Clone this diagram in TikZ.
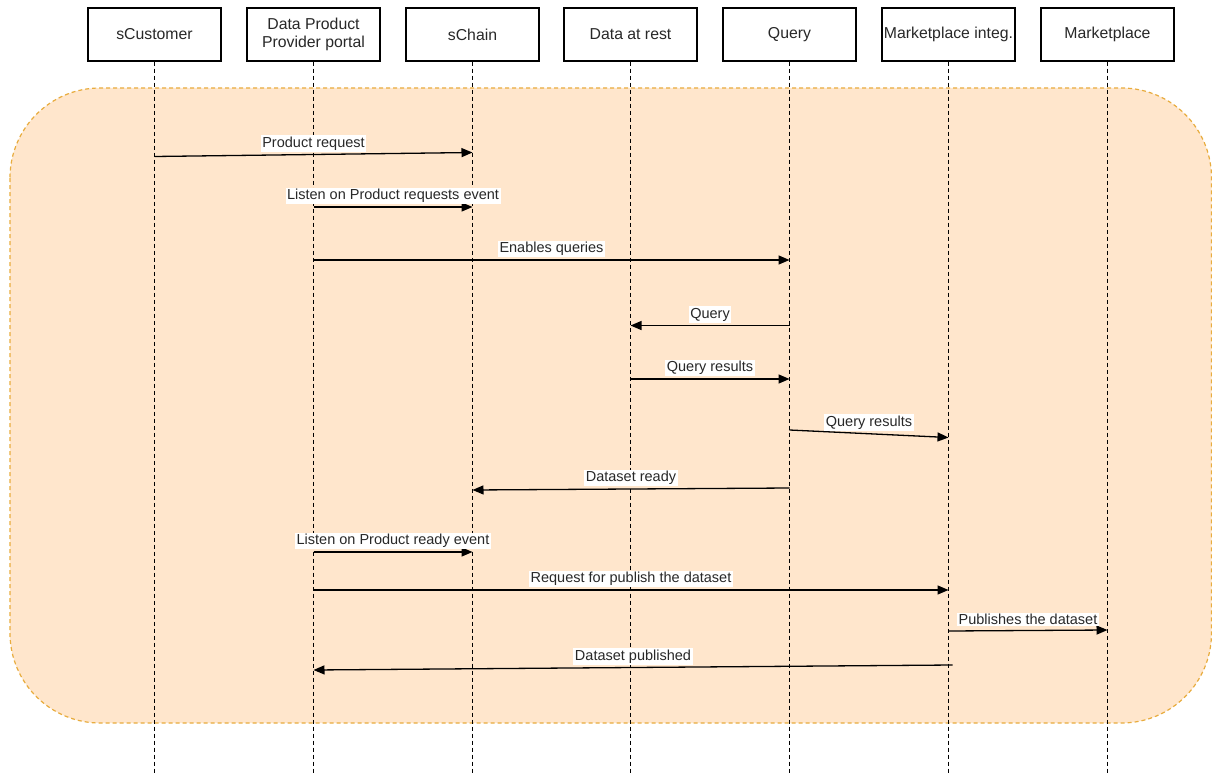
\documentclass[tikz,border=0pt]{standalone}
\usepackage{fontspec}
\setmainfont{Liberation Sans}
\usetikzlibrary{arrows.meta}

\tikzset{
    actor/.style={draw=black, line width=1.2pt, fill=white, minimum width=133pt,
        minimum height=53pt, inner sep=0pt, align=center, text=textgray,
        font=\fontsize{15.8}{18.5}\selectfont},
    lifeline/.style={draw=black, line width=1.1pt, dash pattern=on 4pt off 3pt},
    msg/.style={draw=black, line width=1.3pt, -{Triangle[length=11pt,width=9pt]}},
    msglabel/.style={midway, yshift=11pt, fill=white, inner sep=1.5pt, text=textgray,
        font=\fontsize{14.5}{16}\selectfont}
}

\begin{document}
\begin{tikzpicture}[x=1pt, y=-1pt]

    % Colors
    \definecolor{textgray}{RGB}{40,40,40}
    \definecolor{zonefill}{RGB}{255,230,204}
    \definecolor{zoneline}{RGB}{232,172,62}

    \useasboundingbox (0,0) rectangle (1212,773);

    % Shaded zone behind the messages
    \draw[fill=zonefill, draw=zoneline, line width=1.2pt, dash pattern=on 4pt off 3pt,
        rounded corners=90pt] (10,88) rectangle (1211.5,723);

    % Participants
    \node[actor] (cust)   at (154.5,34.5)  {sCustomer};
    \node[actor] (portal) at (313.5,34.5)  {Data Product\\Provider portal};
    \node[actor] (chain)  at (472.5,34.5)  {sChain};
    \node[actor] (rest)   at (630.5,34.5)  {Data at rest};
    \node[actor] (query)  at (789.5,34.5)  {Query};
    \node[actor] (integ)  at (948.5,34.5)  {Marketplace integ.};
    \node[actor] (market) at (1107.5,34.5) {Marketplace};

    % Lifelines
    \foreach \n in {cust,portal,chain,rest,query,integ,market}
        \draw[lifeline] (\n.south) -- (\n.south |- 0,773);

    % Messages
    \draw[msg] (cust.south |- 0,156.5) -- node[msglabel]{Product request} (chain.south |- 0,152.5);
    \draw[msg] (portal.south |- 0,207) -- node[msglabel]{Listen on Product requests event} (chain.south |- 0,207);
    \draw[msg] (portal.south |- 0,260) -- node[msglabel]{Enables queries} (query.south |- 0,260);
    \draw[msg] (query.south |- 0,325.5) -- node[msglabel]{Query} (rest.south |- 0,325.5);
    \draw[msg] (rest.south |- 0,379) -- node[msglabel]{Query results} (query.south |- 0,379);
    \draw[msg] (query.south |- 0,430) -- node[msglabel]{Query results} (integ.south |- 0,437.5);
    \draw[msg] (query.south |- 0,488) -- node[msglabel]{Dataset ready} (chain.south |- 0,490);
    \draw[msg] (portal.south |- 0,552) -- node[msglabel]{Listen on Product ready event} (chain.south |- 0,552);
    \draw[msg] (portal.south |- 0,590) -- node[msglabel]{Request for publish the dataset} (integ.south |- 0,590);
    \draw[msg] (integ.south |- 0,631) -- node[msglabel]{Publishes the dataset} (market.south |- 0,630);
    \draw[msg] ([xshift=4pt]integ.south |- 0,665) -- node[msglabel]{Dataset published} (portal.south |- 0,670);

\end{tikzpicture}
\end{document}
